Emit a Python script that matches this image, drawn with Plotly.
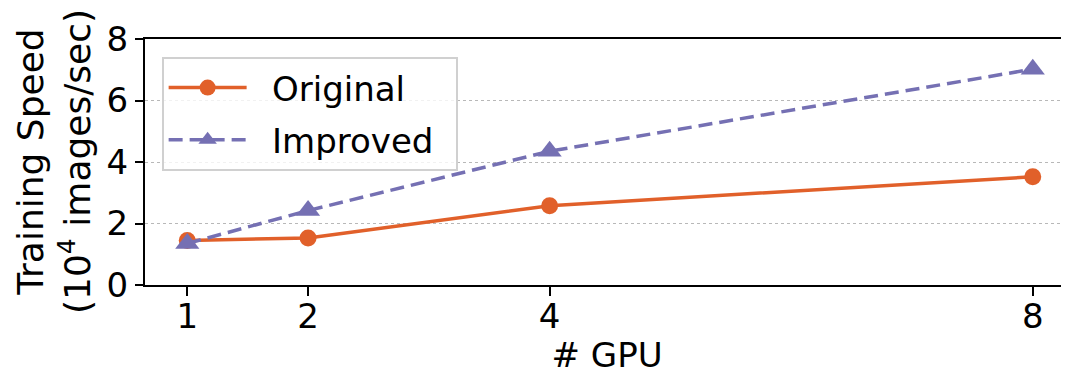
import plotly.graph_objects as go

gpus = [1, 2, 4, 8]
original = [1.45, 1.53, 2.58, 3.52]
improved = [1.35, 2.42, 4.35, 7.02]
series_names = ["Original", "Improved"]
x_ticks = [1, 2, 4, 8]
y_ticks = [0, 2, 4, 6, 8]
y_title = "Training Speed<br>(10<sup>4</sup> images/sec)"
x_title = "# GPU"

FONT = "DejaVu Sans"
ORANGE = "#e1602a"
PURPLE = "#7570b3"
PRE = "\u2002\u200a"
POST = "\u2002"

fig = go.Figure()
fig.add_trace(go.Scatter(
    x=gpus, y=original, name=PRE + series_names[0] + POST, mode="lines+markers",
    legendgroup="a",
    line=dict(color=ORANGE, width=3.5),
    marker=dict(symbol="circle", size=17, color=ORANGE),
))
fig.add_trace(go.Scatter(
    x=gpus, y=improved, name=PRE + series_names[1] + POST, mode="lines+markers",
    legendgroup="b",
    line=dict(color=PURPLE, width=3.5, dash="14px,7px"),
    marker=dict(symbol="triangle-up", size=21, color=PURPLE),
))

fig.update_layout(
    width=1061, height=367,
    margin=dict(l=137, r=0, t=31, b=90),
    paper_bgcolor="white", plot_bgcolor="white",
    font=dict(family=FONT, size=33, color="black"),
    showlegend=True,
    legend=dict(
        x=0.018, y=0.927, xanchor="left", yanchor="top",
        bgcolor="rgba(255,255,255,0.8)", bordercolor="#d0d0d0", borderwidth=2,
        font=dict(family=FONT, size=34, color="black"),
        itemwidth=78, tracegroupgap=5,
    ),
    annotations=[dict(
        text=y_title, textangle=-90, xref="paper", yref="paper",
        x=0, y=0.5, xanchor="center", yanchor="middle", xshift=-91,
        showarrow=False, font=dict(family=FONT, size=36, color="black"),
    )],
)
fig.update_xaxes(
    range=[0.65, 8.30], tickvals=x_ticks, ticktext=[str(v) for v in x_ticks],
    showline=True, linecolor="black", linewidth=2, mirror=True,
    ticks="outside", ticklen=9, tickwidth=2, tickcolor="black",
    showgrid=False, zeroline=False,
    title=dict(text=x_title, font=dict(size=34), standoff=11),
    tickfont=dict(size=34), ticklabelstandoff=-9,
)
fig.update_yaxes(
    range=[0, 8], tickvals=y_ticks,
    showline=True, linecolor="black", linewidth=2,
    ticks="outside", ticklen=8, tickwidth=2, tickcolor="black",
    showgrid=True, gridcolor="#b8b8b8", griddash="dot", gridwidth=1,
    zeroline=False,
    tickfont=dict(size=34),
)

fig.write_html("out.html")
